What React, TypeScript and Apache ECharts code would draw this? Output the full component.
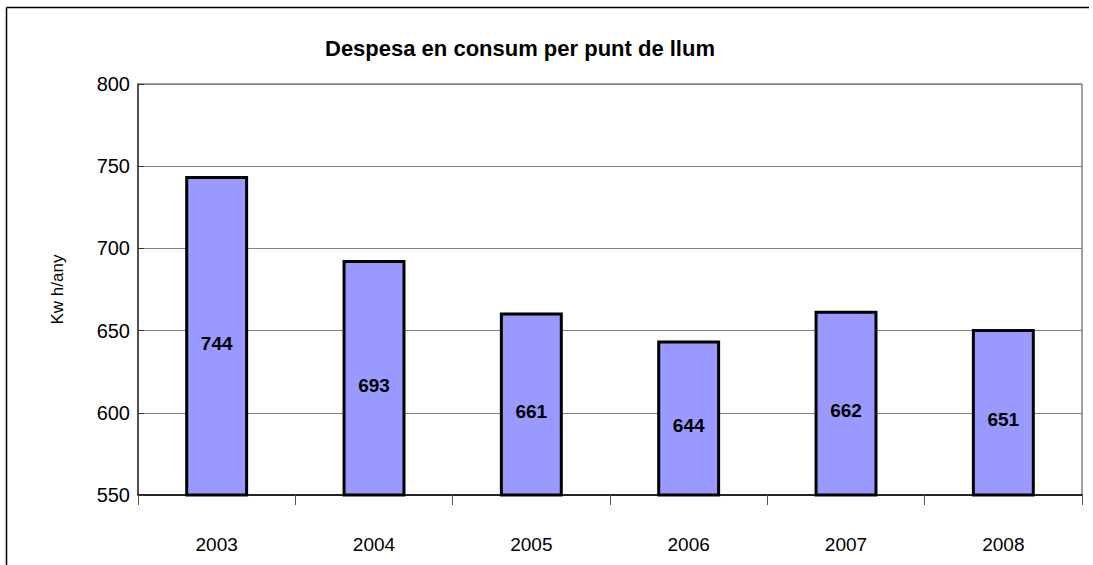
import React, { useEffect, useRef } from "react";
import * as echarts from "echarts";

const categories = ["2003", "2004", "2005", "2006", "2007", "2008"];
const values = [744, 693, 661, 644, 662, 651];
const yTicks = { min: 550, max: 800, interval: 50 };
const title = "Despesa en consum per punt de llum";
const yName = "Kw h/any";

export default function App() {
  const ref = useRef<HTMLDivElement>(null);
  useEffect(() => {
    document.body.style.margin = "0";
    const chart = echarts.init(ref.current!, undefined, { renderer: "svg" });
    chart.setOption({
      animation: false,
      backgroundColor: "#ffffff",
      textStyle: { fontFamily: "Liberation Sans, Arial, sans-serif" },
      title: {
        text: title,
        left: 320,
        top: 32,
        textStyle: { fontSize: 22, fontWeight: "bold", color: "#000" },
      },
      graphic: [
        {
          type: "line",
          shape: { x1: 6.5, y1: 7.5, x2: 6.5, y2: 600 },
          style: { stroke: "#000", lineWidth: 1.5 },
          silent: true,
        },
        {
          type: "line",
          shape: { x1: 6.5, y1: 7.5, x2: 1089, y2: 7.5 },
          style: { stroke: "#000", lineWidth: 1.5 },
          silent: true,
        },
      ],
      grid: {
        left: 138,
        right: 11,
        top: 84,
        bottom: 70,
        show: true,
        borderColor: "#444",
        borderWidth: 1,
      },
      xAxis: {
        type: "category",
        data: categories,
        axisLine: { lineStyle: { color: "#000", width: 1.5 } },
        axisTick: { show: true, length: 10, lineStyle: { color: "#555" } },
        axisLabel: { fontSize: 19, color: "#000", margin: 40 },
      },
      yAxis: {
        type: "value",
        min: yTicks.min,
        max: yTicks.max,
        interval: yTicks.interval,
        name: yName,
        nameLocation: "middle",
        nameGap: 72,
        nameTextStyle: { fontSize: 17, color: "#000" },
        axisLine: { show: true, lineStyle: { color: "#333", width: 1.5 } },
        axisTick: { show: true, inside: true, length: 6, lineStyle: { color: "#333" } },
        axisLabel: { fontSize: 20, color: "#000", margin: 8 },
        splitLine: { lineStyle: { color: "#808080", width: 1 } },
      },
      series: [
        {
          type: "bar",
          data: values,
          barWidth: "40%",
          itemStyle: { color: "#9999ff", borderColor: "#000", borderWidth: 3 },
          label: {
            show: true,
            position: "inside",
            offset: [0, 7],
            fontSize: 19,
            fontWeight: "bold",
            color: "#000",
          },
        },
      ],
    });
    return () => chart.dispose();
  }, []);
  return <div ref={ref} style={{ width: 1093, height: 565, overflow: "hidden" }} />;
}
